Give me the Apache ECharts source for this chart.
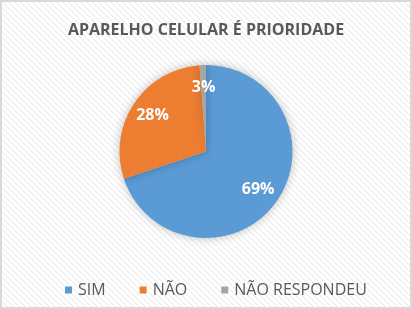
<!DOCTYPE html>
<html>
<head>
<meta charset="utf-8">
<script src="https://cdn.jsdelivr.net/npm/echarts@6/dist/echarts.min.js"></script>
<style>
html,body{margin:0;padding:0;background:#fff;}
#c{width:412px;height:309px;}
</style>
</head>
<body>
<div id="c"></div>
<script>
var categories = ['SIM', 'NÃO', 'NÃO RESPONDEU'];
var values = [69.9, 28.9, 1.2];
var labelTexts = ['69%', '28%', '3%'];
var colors = ['#5B9BD5', '#ED7D31', '#A5A5A5'];
var titleText = 'APARELHO CELULAR É PRIORIDADE';

var pat = document.createElement('canvas');
pat.width = 6; pat.height = 6;
var pc = pat.getContext('2d');
pc.fillStyle = '#ffffff';
pc.fillRect(0, 0, 6, 6);
pc.fillStyle = '#f1f1f1';
for (var i = 0; i < 6; i++) {
  pc.fillRect(i, i, 1, 1);
  pc.fillRect((i + 1) % 6, i, 1, 1);
}

var chart = echarts.init(document.getElementById('c'), null, {renderer: 'canvas'});
var data = categories.map(function (n, i) {
  return {name: n, value: values[i], itemStyle: {color: colors[i]}};
});
var labelData = categories.map(function (n, i) {
  return {name: n, value: values[i], label: {formatter: labelTexts[i]}};
});
chart.setOption({
  backgroundColor: {image: pat, repeat: 'repeat'},
  animation: false,
  title: {
    text: titleText,
    left: 'center',
    top: 17,
    textStyle: {fontFamily: 'Open Sans', fontWeight: 'bold', fontSize: 16, color: '#595959'}
  },
  legend: {
    bottom: 6,
    left: 60,
    padding: 5,
    itemWidth: 7,
    itemHeight: 7,
    itemGap: 34,
    icon: 'rect',
    data: categories,
    textStyle: {fontFamily: 'Open Sans', fontSize: 16, color: '#595959', padding: [0, 0, 0, 1]}
  },
  graphic: [{
    type: 'rect',
    shape: {x: 1, y: 1, width: 410, height: 307},
    style: {fill: 'none', stroke: '#D9D9D9', lineWidth: 2},
    z: 100
  }],
  series: [{
    type: 'pie',
    center: [206, 151.5],
    radius: [0, 86.5],
    startAngle: 90,
    clockwise: true,
    label: {show: false},
    labelLine: {show: false},
    itemStyle: {borderWidth: 0, shadowBlur: 10, shadowColor: 'rgba(0,0,0,0.25)'},
    emphasis: {disabled: true},
    data: data
  }, {
    type: 'pie',
    center: [206, 151.5],
    radius: [36, 86.5],
    startAngle: 90,
    clockwise: true,
    silent: true,
    legendHoverLink: false,
    itemStyle: {color: 'rgba(0,0,0,0)'},
    label: {
      show: true,
      position: 'inside',
      fontFamily: 'Open Sans',
      fontWeight: 'bold',
      fontSize: 16,
      color: '#ffffff'
    },
    labelLine: {show: false},
    data: labelData,
    z: 3
  }]
});
</script>
</body>
</html>
